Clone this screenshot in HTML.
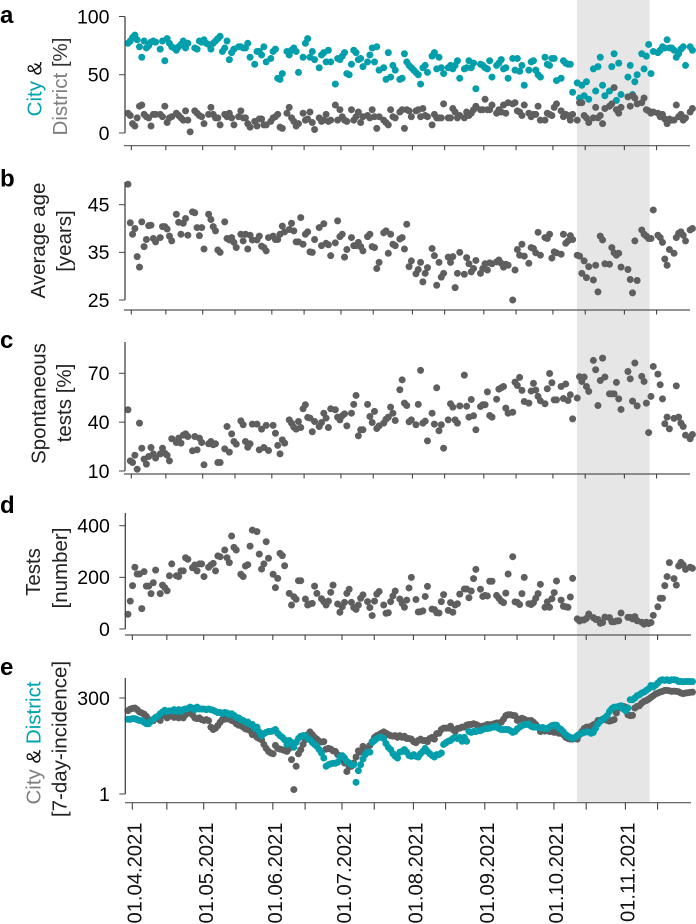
<!DOCTYPE html>
<html lang="en">
<head>
<meta charset="utf-8">
<title>City and District test statistics 2021</title>
<style>
html,body{margin:0;padding:0;background:#fff;}
svg{display:block;font-family:"Liberation Sans",Arial,sans-serif;}
</style>
</head>
<body>
<svg id="chart" xmlns="http://www.w3.org/2000/svg" width="696" height="924" viewBox="0 0 696 924">
<rect id="shade-band" fill="#e6e6e6"></rect>
<g id="marks"></g>
<g font-weight="bold" font-size="24" fill="#000">
<text x="0" y="23">a</text>
<text x="0" y="186.5">b</text>
<text x="0" y="348">c</text>
<text x="0" y="513">d</text>
<text x="0" y="675">e</text>
</g>
<g font-size="20.5" text-anchor="middle" fill="#222">
<text transform="translate(41.5,89) rotate(-90)"><tspan fill="#00a3ae">City</tspan> <tspan fill="#111">&amp;</tspan></text>
<text transform="translate(67,86.5) rotate(-90)"><tspan fill="#7f7f7f">District</tspan> <tspan fill="#333">[%]</tspan></text>
<text transform="translate(45,240.5) rotate(-90)">Average age</text>
<text transform="translate(71,241) rotate(-90)">[years]</text>
<text transform="translate(45.5,403.5) rotate(-90)">Spontaneous</text>
<text transform="translate(71,403) rotate(-90)">tests [%]</text>
<text transform="translate(40,572) rotate(-90)">Tests</text>
<text transform="translate(67,568) rotate(-90)">[number]</text>
<text transform="translate(40.5,743) rotate(-90)"><tspan fill="#7f7f7f">City</tspan> <tspan fill="#111">&amp;</tspan> <tspan fill="#00a3ae">District</tspan></text>
<text transform="translate(66.5,739) rotate(-90)">[7-day-incidence]</text>
</g>
</svg>
<script>
const _ = null;
const TEAL = '#009fab';
const GRAY = '#5f5f5f';

/* x axis: days counted from 01.04.2021 */
const tickDays = [0,15,31,45,61,75,91,105,122,136,153,167,183,197,214,228];
const labelDays = [0,31,61,91,122,153,183,214];
const dateLabels = ['01.04.2021','01.05.2021','01.06.2021','01.07.2021','01.08.2021','01.09.2021','01.10.2021','01.11.2021'];
const firstDataDay = -1.45;
const highlightStartDay = 193.4;
const highlightEndDay = 225;

/* panel a: share of tests [%] */
const aTicks = [0,50,100];
const aCity = [77,79,82,84,80,74,65,79,73,75,78,79,78,_,72,79,62,81,77,74,
73,71,74,76,79,73,77,_,_,73,72,79,78,80,77,76,72,77,79,81,
83,70,73,79,63,69,72,_,74,74,73,73,77,65,_,59,70,70,67,74,
61,_,64,70,72,47,46,51,_,70,67,71,73,70,52,_,65,77,81,65,
70,63,_,56,67,69,61,71,61,_,42,64,63,66,69,51,50,59,71,69,
63,64,57,_,61,67,73,61,74,54,_,56,46,69,48,58,54,_,46,47,
68,61,58,56,54,52,50,42,56,58,52,_,66,69,55,65,56,51,_,56,
58,55,58,62,47,_,55,56,62,56,60,38,_,59,58,56,55,62,48,_,
58,60,63,55,56,47,_,64,54,64,53,58,41,_,54,61,62,54,50,48,
_,65,59,58,64,64,45,_,47,62,60,59,59,35,_,43,30,41,32,44,
29,_,55,36,57,65,41,32,_,36,57,68,28,60,33,_,_,48,58,33,
44,50,_,68,55,66,76,51,70,_,69,71,74,73,80,73,73,71,65,68,
72,74,58,_,74,71];
const aDistrict = [17,15,8,6,13,23,24,16,14,13,6,16,16,_,16,14,23,9,13,14,
_,17,15,13,11,19,11,1,_,19,17,15,14,8,_,16,22,16,13,13,
7,_,16,14,17,13,7,_,14,19,13,13,8,5,_,10,6,12,12,7,
7,_,10,13,14,16,5,4,_,17,22,13,10,6,8,_,17,11,12,18,
9,3,_,13,10,11,16,10,11,_,24,11,20,14,11,10,_,20,11,14,
18,9,14,_,15,13,20,14,4,14,_,11,9,7,20,14,13,_,18,20,
4,20,19,14,_,19,20,14,21,15,14,_,7,16,13,13,13,25,_,13,
13,21,18,13,15,_,13,18,15,17,20,23,_,20,20,29,20,20,24,_,
17,20,18,24,17,26,_,25,26,19,18,15,24,_,17,14,16,16,23,11,
_,11,17,16,15,22,25,_,19,14,16,15,11,16,_,11,26,26,15,13,
9,_,13,22,13,15,8,21,_,23,25,39,20,17,22,_,_,31,23,32,
30,25,_,26,30,20,19,17,18,_,17,14,16,12,8,12,11,11,24,14,
16,11,13,_,18,21];

/* panel b: average age [years] */
const bTicks = [25,35,45];
const bAge = [49.3,41.2,38.8,40,34.1,31.9,41.4,36.2,37.7,40.6,40.7,37.9,37.2,_,38.1,40.4,40.4,39.9,38.4,37.4,
_,43,41.3,38.8,41.1,42.1,38.6,_,43.5,43.3,40.2,38.5,40.2,35.7,_,43,41.9,40.4,39.5,35.5,
35,_,41.4,37.9,37.6,38.1,37.1,36,_,38.8,37.4,38.8,35.7,38.6,37.6,_,37.6,38.4,36.3,36,
35.3,38.1,_,38.4,37.7,37.7,38.8,40.5,39.3,_,39.8,41.1,39.5,37.2,37.2,42.3,36.7,38.8,39.3,35.1,
35,37.7,_,40.2,36.4,41,36.9,36.6,34.3,_,37,41.6,38.3,38.8,34,35.6,_,38.1,36.4,36.4,
37.1,36.2,35.3,_,38.3,38.8,36.2,36,31.6,32.9,_,39.1,39.5,34.8,38.8,36.7,36.4,_,37.8,38.1,
35.7,40.9,32,33.2,_,30.5,31.4,32.9,28.8,30.6,31.8,_,35.8,34.3,28.1,32.9,29.8,30.6,_,34,
32.9,34.1,27.6,30.6,35,_,30.4,33.9,32.6,30.9,31.6,33.3,_,30.6,31.6,32.6,31.3,32.8,32.6,_,
33,33.4,32.7,31.9,32.5,32.3,_,25,31.3,35.6,34.4,36.7,34.2,_,32.7,36,35.8,34.9,39.2,34.4,
_,38.1,37.9,38.8,33.8,35.1,34.9,_,34.6,38.8,36.9,37.4,38.5,37.7,_,34.4,34.2,30.6,33.2,29.7,
32,_,29.2,32.3,26.7,38.4,37.6,32.6,_,32.5,36,34.9,34.4,34.8,31.9,_,_,31.4,29.3,26.5,
37.4,29.1,_,39.7,38.8,38.4,37.9,37.9,43.9,_,38.6,38.1,37.1,33.6,32.3,35.6,_,34.8,38.1,39,
39.3,38.6,37.4,_,39.7,40];

/* panel c: spontaneous tests [%] */
const cTicks = [10,40,70];
const cSpontaneous = [47.6,16.2,15.2,19.7,11.1,39.4,24,17.3,14.2,18.9,24.4,20.5,18,_,20.5,24,20.9,19.7,16.2,29.8,
_,27.5,30.2,27.1,32,32.8,31.2,_,22.4,31.2,23,30.2,27.5,13.8,_,26.7,28.1,26.1,26.7,15.2,
15.2,_,23.6,37.3,21.6,32.8,28.1,26.5,_,40.8,38.4,28.1,24.6,26.7,38.8,_,38.8,23,35.7,24.4,
38,22.6,_,38,33.2,25.7,20.5,29.1,27.1,_,41.4,39.4,36.9,35.7,40.4,36.7,48.2,50.7,42.9,42.5,
34.1,40.4,_,37.3,39.8,45.5,42.5,36.7,48.2,_,47.6,43.1,41.4,43.9,45.1,37.7,_,45.5,50.9,56.4,
31.6,35.3,35.3,_,50.9,43.5,39.8,46.6,36.1,37.7,_,39.4,41.8,43.1,49.2,45.5,41,_,59.9,66,
51.7,50.2,40.2,41.4,_,38.4,50.9,71.8,39.4,40.6,28.5,_,45.5,38.8,61.1,34.7,38.4,24,_,41.4,
51.3,49.2,41.4,39.4,50,_,68.9,49.8,43.1,53.9,43.9,35.3,_,49.6,50.7,50.7,58.6,44.1,43.1,_,
54.1,60.3,61.1,61.9,48.6,45.5,_,46.1,64.6,62.5,67.5,59.5,52.7,_,51.7,59.1,63.8,59.7,55.8,53.1,
_,51.3,60.5,69.9,64.2,53.7,53.7,_,61.9,54.5,63.4,53.3,56.8,42,_,54.8,67.9,65,67.7,61.9,
58.9,_,77.9,72.2,50.2,65.6,79.3,67.7,_,57.4,57.4,57.4,64.4,54.3,47.8,_,_,71.1,66.6,52.9,
76.3,50,_,68.1,65,51.7,33.6,55.8,74.2,_,69.5,63,54.3,39,43.1,35.9,_,42.3,62.3,43.1,
39.4,37.3,32,_,29.8,32.4];

/* panel d: number of tests */
const dTicks = [0,200,400];
const dTests = [57,108,168,239,213,213,79,222,166,166,137,179,228,_,137,170,160,148,206,252,
_,206,203,225,225,276,270,_,237,248,225,252,252,203,_,239,248,254,225,283,
280,_,306,276,257,360,316,306,_,212,203,244,249,321,383,_,377,290,232,252,
338,274,_,212,160,196,293,284,245,_,138,93,125,115,187,187,_,116,93,97,
99,166,138,_,117,106,93,108,142,170,_,97,65,86,103,138,154,103,83,76,
93,119,132,_,106,83,52,108,135,145,_,93,61,63,106,128,147,_,116,99,
84,112,159,200,_,114,66,67,70,126,165,_,77,75,63,62,106,133,_,72,
102,65,93,98,135,_,155,155,121,147,195,231,_,154,126,130,128,185,185,_,
130,119,108,102,139,213,_,280,105,103,95,137,200,_,98,95,102,119,137,173,
_,84,105,84,117,141,186,_,112,88,86,84,124,196,_,39,31,35,35,41,
58,_,44,37,37,22,25,46,_,44,28,28,31,32,62,_,_,45,45,39,
48,32,_,26,19,26,21,25,53,_,86,119,119,168,203,257,_,195,170,244,
258,248,231,_,239,235];

/* panel e: 7-day incidence, log axis */
const eTicks = [1,300];
const eCity = [142,155,162,165,150,131,123,115,101,83,75,78,88,92,79,105,111,92,101,105,
95,111,92,105,92,111,123,123,111,92,88,92,83,79,83,78,53,46,50,58,
71,83,85,88,85,79,75,65,60,58,53,48,46,43,34,37,29,27,25,19,
15,12.6,11.4,10.9,18,15,14.4,13.9,13.3,12.6,15,7.7,1.3,5.2,10.9,13.9,19,25,34,40,
34,29,26,23,22,22.5,14.4,15,14.4,13,12.6,10.4,9.4,7.7,6.3,3.8,5,5.2,6.3,9,
13,12,17,15,12.6,18,22.5,29,32,34,37,40,37,34,32,31,32,29,32,29,
31,27,27,26,22.5,21,24,26,24,24,22.5,27,29,26,36,37,46,50,50,50,
56,46,41,49,50,53,53,60,62,62,65,62,58,53,56,58,62,61,62,65,
68,68,71,85,105,111,111,107,105,79,85,90,85,79,78,79,71,62,53,41,
46,42,46,41,41,39,41,37,37,34,29,27,26,26,27,26,34,41,49,53,
53,56,61,65,79,79,85,83,79,76,79,83,123,165,182,182,175,111,105,107,
165,182,190,222,245,259,281,312,344,380,403,427,445,472,472,462,445,453,445,436,
403,388,403,410,420,425];
const eDistrict = [85,85,88,88,83,79,78,71,65,65,75,85,95,101,118,131,145,135,140,140,
150,135,150,135,150,156,159,175,165,150,175,156,156,156,150,156,150,145,135,127,
127,118,127,123,111,118,107,95,92,83,79,71,72,62,62,50,53,40,32,36,
39,41,41,43,46,37,32,29,25,19,24,21.5,16,21.5,27,31,32,32,27,25,
21.5,19,17,14,11.4,8.5,5.2,5.7,6,6.2,6.2,6.6,9,9.8,8.5,7,6.3,5.7,5.7,2,
4,5.7,8,10.4,12,12,21.5,24,27,29,29,27,20,16,14,11,9.4,8.5,12,12.6,
14,12,9.8,9.4,10.4,9.4,9,11,12.6,15,12.6,11,9.8,9,10.4,10.4,11.4,19,21,23,
24,27,29,27,29,23,29,23,41,39,41,41,43,43,46,49,49,50,53,53,
56,49,46,46,46,46,43,39,41,48,53,58,62,62,64,56,53,53,53,50,
52,49,49,53,58,60,60,50,46,40,34,31,29,27,29,32,35,37,39,40,
40,37,39,50,65,75,83,92,105,135,159,175,175,182,190,156,140,165,271,271,
300,344,365,403,427,472,520,632,575,645,730,840,889,855,889,840,889,889,870,800,
800,785,800,800,800,795];

const svg = document.getElementById('chart');
const marks = document.getElementById('marks');
const NS = 'http://www.w3.org/2000/svg';

function shape(tag, parent, attrs) {
  const el = document.createElementNS(NS, tag);
  for (const k in attrs) el.setAttribute(k, attrs[k]);
  parent.appendChild(el);
  return el;
}
function dayToX(day) { return 131.3 + 2.304 * day; }
function indexToX(i) { return dayToX(firstDataDay + i); }
function linearScale(d0, d1, r0, r1) { return v => r0 + (v - d0) / (d1 - d0) * (r1 - r0); }
function logScale(d0, d1, r0, r1) { return v => r0 + (Math.log10(v) - Math.log10(d0)) / (Math.log10(d1) - Math.log10(d0)) * (r1 - r0); }

function drawYAxis(key, scale, ticks, axisX, axisTop, axisBottom) {
  const g = shape('g', marks, {});
  
  
  const line = shape('line', g, {x1: axisX, x2: axisX, y1: axisTop, y2: axisBottom, stroke: '#444', 'stroke-width': 1.3});
  
  
  ticks.forEach(t => {
    const y = scale(t);
    const tick = shape('line', g, {x1: axisX - 6, x2: axisX, y1: y, y2: y, stroke: '#444', 'stroke-width': 1});
    
    
    const label = shape('text', g, {x: axisX - 15.5, y: y + 6.8, 'text-anchor': 'end', 'font-size': 19.5, fill: '#000'});
    
    
    label.textContent = t;
  });
}
function drawXAxis(key, axisY, tickLen, shift) {
  const g = shape('g', marks, {});
  
  
  const line = shape('line', g, {x1: 124 + shift, x2: 690 + shift, y1: axisY, y2: axisY, stroke: '#555', 'stroke-width': 1.2});
  
  
  tickDays.forEach(d => {
    const x = dayToX(d) + shift;
    const tick = shape('line', g, {x1: x, x2: x, y1: axisY, y2: axisY + tickLen, stroke: '#333', 'stroke-width': 1});
    
    
  });
}
function drawDots(key, scale, values, color) {
  const g = shape('g', marks, {fill: color});
  
  
  values.forEach((v, i) => {
    if (v === null) return;
    const dot = shape('circle', g, {cx: indexToX(i), cy: scale(v), r: 3.5});
    
    
  });
}

/* highlighted period */
const band = document.getElementById('shade-band');
band.setAttribute('x', dayToX(highlightStartDay));
band.setAttribute('y', 0);
band.setAttribute('width', dayToX(highlightEndDay) - dayToX(highlightStartDay));
band.setAttribute('height', 802);

/* panel a */
const yA = linearScale(0, 100, 133, 16.5);
drawDots('a-city', yA, aCity, TEAL);
drawDots('a-district', yA, aDistrict, GRAY);
drawYAxis('a', yA, aTicks, 125, 16.5, 133);
drawXAxis('a', 145.7, 4.5, 0);

/* panel b */
const yB = linearScale(25, 45, 300, 204.7);
drawDots('b-age', yB, bAge, GRAY);
drawYAxis('b', yB, bTicks, 125, 182, 300);
drawXAxis('b', 310, 4.5, 0);

/* panel c */
const yC = linearScale(10, 70, 471, 373.3);
drawDots('c-spontaneous', yC, cSpontaneous, GRAY);
drawYAxis('c', yC, cTicks, 125, 342, 471);
drawXAxis('c', 474, 4.5, 0);

/* panel d */
const yD = linearScale(0, 400, 629, 525.7);
drawDots('d-tests', yD, dTests, GRAY);
drawYAxis('d', yD, dTicks, 125.3, 513, 629);
drawXAxis('d', 635, 5, 1);

/* panel e */
const yE = logScale(1, 300, 794, 698);
drawDots('e-city', yE, eCity, GRAY);
drawDots('e-district', yE, eDistrict, TEAL);
drawYAxis('e', yE, eTicks, 125.3, 678, 794);
drawXAxis('e', 802.7, 7, 1);

/* date labels under panel e */
dateLabels.forEach((text, i) => {
  const x = dayToX(labelDays[i]) + 10.2;
  const label = shape('text', marks, {transform: 'translate(' + x + ',822.5) rotate(-90)', 'text-anchor': 'end', 'font-size': 20.2, fill: '#111'});
  
  
  label.textContent = text;
});
</script>
</body>
</html>
